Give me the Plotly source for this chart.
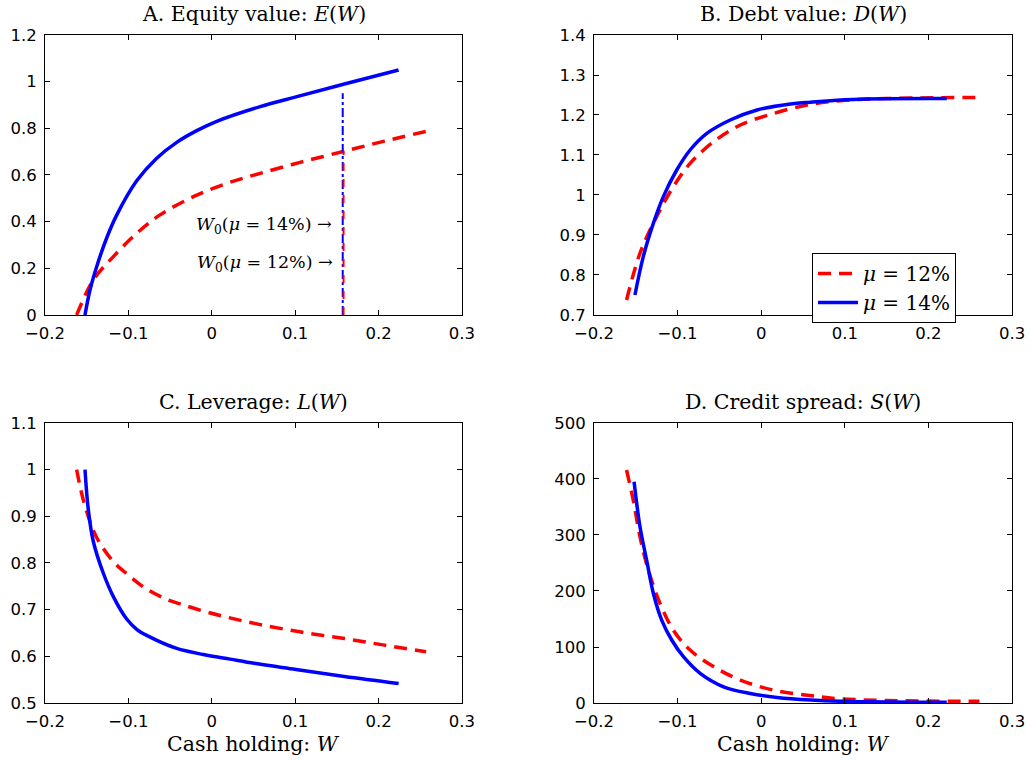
import plotly.graph_objects as go

# ---------------- data ----------------
# Panel A: equity value E(W)
wA14 = [-0.152, -0.146, -0.138, -0.126, -0.114, -0.090, -0.066, -0.042, -0.018, 0.006, 0.058, 0.101, 0.159, 0.224]
eA14 = [0.0, 0.107, 0.207, 0.33, 0.428, 0.575, 0.672, 0.74, 0.79, 0.83, 0.893, 0.935, 0.99, 1.05]
wA12 = [-0.162, -0.142, -0.118, -0.090, -0.062, -0.022, 0.018, 0.058, 0.107, 0.159, 0.207, 0.257]
eA12 = [0.0, 0.15, 0.25, 0.35, 0.429, 0.507, 0.564, 0.607, 0.655, 0.702, 0.745, 0.787]

# Panel B: debt value D(W)
wB14 = [-0.151, -0.141, -0.129, -0.117, -0.101, -0.085, -0.065, -0.037, -0.005, 0.035, 0.059, 0.11, 0.222]
dB14 = [0.75, 0.846, 0.929, 0.996, 1.0625, 1.1125, 1.154, 1.1875, 1.2125, 1.2275, 1.232, 1.239, 1.241]
wB12 = [-0.161, -0.145, -0.125, -0.105, -0.085, -0.057, -0.025, 0.015, 0.055, 0.09, 0.15, 0.261]
dB12 = [0.7375, 0.854, 0.946, 1.021, 1.079, 1.133, 1.175, 1.204, 1.225, 1.235, 1.241, 1.244]

# Panel C: leverage L(W)
wC14 = [-0.152, -0.148, -0.142, -0.130, -0.118, -0.102, -0.090, -0.078, -0.042, -0.010, 0.022, 0.051, 0.101, 0.159, 0.224]
lC14 = [1.0, 0.914, 0.846, 0.778, 0.728, 0.68, 0.658, 0.645, 0.617, 0.604, 0.594, 0.585, 0.572, 0.557, 0.542]
wC12 = [-0.162, -0.154, -0.142, -0.134, -0.118, -0.100, -0.078, -0.054, -0.034, -0.010, 0.018, 0.058, 0.107, 0.159, 0.207, 0.257]
lC12 = [1.0, 0.935, 0.870, 0.842, 0.803, 0.774, 0.744, 0.722, 0.710, 0.697, 0.684, 0.668, 0.652, 0.638, 0.624, 0.61]

# Panel D: credit spread S(W)
wD14 = [-0.152, -0.145, -0.137, -0.129, -0.119, -0.107, -0.093, -0.073, -0.045, -0.013, 0.019, 0.059, 0.11, 0.222]
sD14 = [395, 315, 255, 196, 148, 112.5, 82.7, 53, 29, 17, 10, 5.4, 2.5, 1.2]
wD12 = [-0.161, -0.153, -0.145, -0.135, -0.121, -0.105, -0.085, -0.057, -0.025, 0.015, 0.055, 0.09, 0.15, 0.261]
sD12 = [416, 362, 297, 237.5, 178, 130, 94.6, 65, 41, 23, 14, 8, 4.5, 3.0]

# Target cash levels W0 and equity value there
W0_14, E0_14 = 0.157, 0.95
W0_12, E0_12 = 0.158, 0.705

# axis settings
x_range = [-0.2, 0.3]
x_ticks = [-0.2, -0.1, 0, 0.1, 0.2, 0.3]
yA_range, yA_ticks = [0, 1.2], [0, 0.2, 0.4, 0.6, 0.8, 1, 1.2]
yB_range, yB_ticks = [0.7, 1.4], [0.7, 0.8, 0.9, 1, 1.1, 1.2, 1.3, 1.4]
yC_range, yC_ticks = [0.5, 1.1], [0.5, 0.6, 0.7, 0.8, 0.9, 1, 1.1]
yD_range, yD_ticks = [0, 500], [0, 100, 200, 300, 400, 500]

RED = "#ff0000"
BLUE = "#0000ff"
SERIF = "DejaVu Serif, Liberation Serif, serif"
SANS = "DejaVu Sans, Liberation Sans, sans-serif"

fig = go.Figure()

def add_pair(w12, v12, w14, v14, xa, ya, show):
    fig.add_trace(go.Scatter(x=w12, y=v12, mode="lines", name="<i>μ</i> = 12%",
                             line=dict(color=RED, width=3.5, dash="13px,8px", shape="spline", smoothing=1),
                             xaxis=xa, yaxis=ya, showlegend=show, legendrank=1))
    fig.add_trace(go.Scatter(x=w14, y=v14, mode="lines", name="<i>μ</i> = 14%",
                             line=dict(color=BLUE, width=3.5, shape="spline", smoothing=1),
                             xaxis=xa, yaxis=ya, showlegend=show, legendrank=2))

add_pair(wA12, eA12, wA14, eA14, "x", "y", False)
# vertical W0 markers in panel A
fig.add_trace(go.Scatter(x=[W0_14, W0_14], y=[0, E0_14], mode="lines",
                         line=dict(color=BLUE, width=2, dash="dashdot"),
                         xaxis="x", yaxis="y", showlegend=False))
fig.add_trace(go.Scatter(x=[W0_12, W0_12], y=[0, E0_12], mode="lines",
                         line=dict(color=RED, width=2, dash="8px,8px"),
                         xaxis="x", yaxis="y", showlegend=False))
add_pair(wB12, dB12, wB14, dB14, "x2", "y2", True)
add_pair(wC12, lC12, wC14, lC14, "x3", "y3", False)
add_pair(wD12, sD12, wD14, sD14, "x4", "y4", False)

dx_left = [0.0436, 0.4481]
dx_right = [0.5761, 0.9816]
dy_top = [0.5861, 0.9540]
dy_bot = [0.0762, 0.4442]

def common(domain, anchor):
    return dict(domain=domain, anchor=anchor, automargin=False,
                ticks="inside", ticklen=5, tickwidth=1, tickcolor="black",
                showline=True, linecolor="black", linewidth=1, mirror="ticks",
                showgrid=False, zeroline=False,
                tickfont=dict(family=SANS, size=16.5, color="black"))

def xax(domain, anchor):
    d = common(domain, anchor)
    d.update(range=x_range, tickvals=x_ticks, ticklabelstandoff=3)
    return d

def yax(domain, anchor, rng, tv):
    d = common(domain, anchor)
    d.update(range=rng, tickvals=tv, ticklabelstandoff=4)
    return d

fig.update_layout(
    width=1031, height=761,
    margin=dict(l=0, r=0, t=0, b=0, autoexpand=False),
    paper_bgcolor="white", plot_bgcolor="white",
    xaxis=xax(dx_left, "y"), yaxis=yax(dy_top, "x", yA_range, yA_ticks),
    xaxis2=xax(dx_right, "y2"), yaxis2=yax(dy_top, "x2", yB_range, yB_ticks),
    xaxis3=xax(dx_left, "y3"), yaxis3=yax(dy_bot, "x3", yC_range, yC_ticks),
    xaxis4=xax(dx_right, "y4"), yaxis4=yax(dy_bot, "x4", yD_range, yD_ticks),
    legend=dict(x=0.7876, y=0.6675, xanchor="left", yanchor="top",
                bgcolor="white", bordercolor="black", borderwidth=1,
                font=dict(family=SERIF, size=20, color="black"),
                tracegroupgap=0, itemwidth=40),
    showlegend=True,
)

titles = [
    ("A. Equity value: <i>E</i>(<i>W</i>)", 0.2459, 0.9816),
    ("B. Debt value: <i>D</i>(<i>W</i>)", 0.7789, 0.9816),
    ("C. Leverage: <i>L</i>(<i>W</i>)", 0.2459, 0.4717),
    ("D. Credit spread: <i>S</i>(<i>W</i>)", 0.7789, 0.4717),
    ("Cash holding: <i>W</i>", 0.2459, 0.0223),
    ("Cash holding: <i>W</i>", 0.7789, 0.0223),
]
for t, x, y in titles:
    fig.add_annotation(text=t, x=x, y=y, xref="paper", yref="paper",
                       xanchor="center", yanchor="middle", showarrow=False,
                       font=dict(family=SERIF, size=20.5, color="black"))

fig.add_annotation(text="<i>W</i><sub>0</sub>(<i>μ</i> = 14%) →", x=0.146, y=0.383,
                   xref="x", yref="y", xanchor="right", yanchor="middle", showarrow=False,
                   font=dict(family=SERIF, size=17.5, color="black"))
fig.add_annotation(text="<i>W</i><sub>0</sub>(<i>μ</i> = 12%) →", x=0.148, y=0.222,
                   xref="x", yref="y", xanchor="right", yanchor="middle", showarrow=False,
                   font=dict(family=SERIF, size=17.5, color="black"))

fig.write_html("out.html")
